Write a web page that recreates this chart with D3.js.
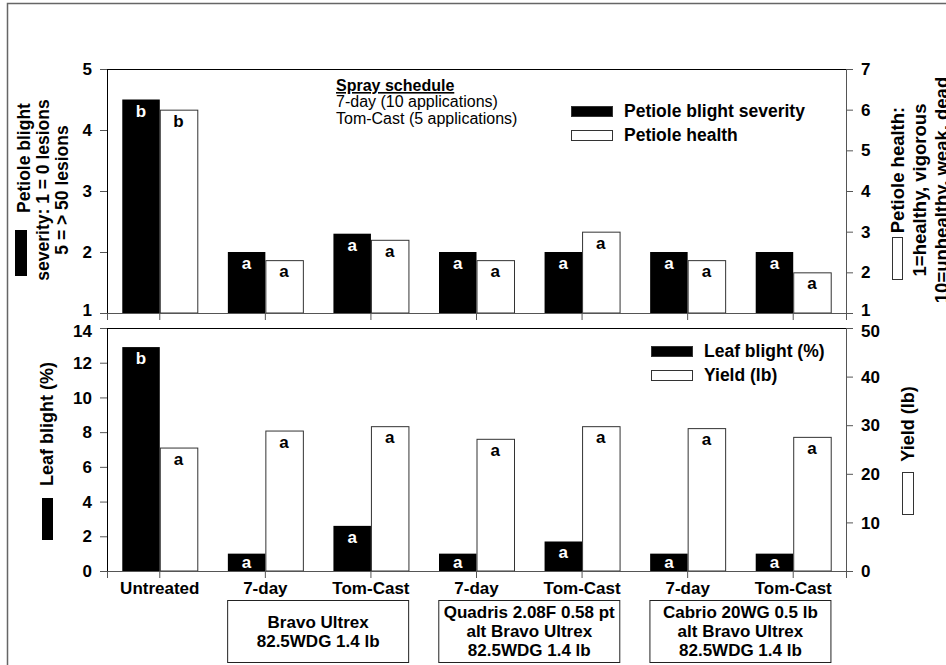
<!DOCTYPE html>
<html>
<head>
<meta charset="utf-8">
<script src="https://cdn.jsdelivr.net/npm/d3@7"></script>
<style>
  body { margin: 0; background: #fff; }
  svg { font-family: "Liberation Sans", Arial, sans-serif; }
  .tick text { font-weight: bold; font-size: 17px; fill: #000; }
</style>
</head>
<body>
<svg id="chart" width="946" height="665"></svg>
<script>
// treatments along x
const groups = ["Untreated", "7-day", "Tom-Cast", "7-day", "Tom-Cast", "7-day", "Tom-Cast"];

// top panel: petiole blight severity (left, 1-5) and petiole health (right, 1-7)
const severity = [4.5, 2.0, 2.3, 2.0, 2.0, 2.0, 2.0];
const severityLetters = ["b", "a", "a", "a", "a", "a", "a"];
const health = [6.0, 2.3, 2.8, 2.3, 3.0, 2.3, 2.0];
const healthLetters = ["b", "a", "a", "a", "a", "a", "a"];

// bottom panel: leaf blight % (left, 0-14) and yield lb (right, 0-50)
const leafBlight = [12.9, 1.0, 2.6, 1.0, 1.7, 1.0, 1.0];
const leafLetters = ["b", "a", "a", "a", "a", "a", "a"];
const yieldLb = [25.4, 28.9, 29.8, 27.2, 29.8, 29.4, 27.6];
const yieldLetters = ["a", "a", "a", "a", "a", "a", "a"];

const sevTicks = [1, 2, 3, 4, 5];
const healthTicks = [1, 2, 3, 4, 5, 6, 7];
const leafTicks = [0, 2, 4, 6, 8, 10, 12, 14];
const yieldTicks = [0, 10, 20, 30, 40, 50];

const products = [
  { lines: ["Bravo Ultrex", "82.5WDG 1.4 lb"], from: 1, to: 2 },
  { lines: ["Quadris 2.08F 0.58 pt", "alt Bravo Ultrex", "82.5WDG 1.4 lb"], from: 3, to: 4 },
  { lines: ["Cabrio 20WG 0.5 lb", "alt Bravo Ultrex", "82.5WDG 1.4 lb"], from: 5, to: 6 }
];

const svg = d3.select("#chart");
const left = 107, right = 846;
const axisColor = "#555";

// outer frame
svg.append("rect")
  .attr("x", 7.5).attr("y", 3.5).attr("width", 960).attr("height", 700)
  .attr("fill", "none").attr("stroke", "#666").attr("stroke-width", 1.5);

const x = d3.scaleBand().domain(d3.range(groups.length)).range([left, right]);
const barW = 37.5;
const cx = i => x(i) + x.bandwidth() / 2;

function panel(top, bottom, yL, yR, ticksL, ticksR, blackVals, blackLet, whiteVals, whiteLet) {
  const g = svg.append("g");

  // box top line
  g.append("line").attr("x1", left).attr("x2", right)
    .attr("y1", top + 0.5).attr("y2", top + 0.5).attr("stroke", "#000");

  g.selectAll(".bk").data(blackVals).join("rect")
    .attr("x", (d, i) => cx(i) - barW)
    .attr("y", d => yL(d))
    .attr("width", barW)
    .attr("height", d => bottom - yL(d))
    .attr("fill", "#000");

  g.selectAll(".wt").data(whiteVals).join("rect")
    .attr("x", (d, i) => cx(i) + 0.5)
    .attr("y", d => yR(d) + 0.5)
    .attr("width", barW)
    .attr("height", d => bottom - yR(d) - 0.5)
    .attr("fill", "#fff").attr("stroke", "#333").attr("stroke-width", 1);

  g.selectAll(".bl").data(blackVals).join("text")
    .attr("x", (d, i) => cx(i) - barW / 2)
    .attr("y", d => Math.min(yL(d) + 17, bottom - 3))
    .attr("text-anchor", "middle").attr("font-weight", "bold").attr("font-size", 17)
    .attr("fill", "#fff")
    .text((d, i) => blackLet[i]);

  g.selectAll(".wl").data(whiteVals).join("text")
    .attr("x", (d, i) => cx(i) + barW / 2)
    .attr("y", d => Math.min(yR(d) + 17, bottom - 3))
    .attr("text-anchor", "middle").attr("font-weight", "bold").attr("font-size", 17)
    .attr("fill", "#000")
    .text((d, i) => whiteLet[i]);

  const ax = g.append("g").attr("transform", `translate(${left},0)`)
    .call(d3.axisLeft(yL).tickValues(ticksL).tickSize(7).tickPadding(8).tickFormat(d3.format("d")));
  const ar = g.append("g").attr("transform", `translate(${right},0)`)
    .call(d3.axisRight(yR).tickValues(ticksR).tickSize(7).tickPadding(8).tickFormat(d3.format("d")));
  const xb = g.append("g").attr("transform", `translate(0,${bottom})`)
    .call(d3.axisBottom(x).tickSize(7).tickFormat(() => ""));
  [ax, ar, xb].forEach(a => {
    a.select(".domain").attr("stroke", axisColor);
    a.selectAll(".tick line").attr("stroke", axisColor);
  });
  ax.select(".domain").attr("stroke", "#000");
  ax.selectAll(".tick text").attr("dy", "0.33em");
  ar.selectAll(".tick text").attr("dy", "0.33em");
  return { ax, ar, xb };
}

// top panel
const yTop0 = 69, yTop1 = 313;
const ySev = d3.scaleLinear().domain([1, 5]).range([yTop1, yTop0]);
const yHealth = d3.scaleLinear().domain([1, 7]).range([yTop1, yTop0]);
const topAxes = panel(yTop0, yTop1, ySev, yHealth, sevTicks, healthTicks, severity, severityLetters, health, healthLetters);
// lift the bottom "1" labels a touch so they clear the lower panel's top labels
[topAxes.ax, topAxes.ar].forEach(a => a.selectAll(".tick text").filter(d => d === 1).attr("dy", "0.15em"));

// bottom panel
const yBot0 = 328, yBot1 = 571;
const yLeaf = d3.scaleLinear().domain([0, 14]).range([yBot1, yBot0]);
const yYield = d3.scaleLinear().domain([0, 50]).range([yBot1, yBot0]);
const botAxes = panel(yBot0, yBot1, yLeaf, yYield, leafTicks, yieldTicks, leafBlight, leafLetters, yieldLb, yieldLetters);
[botAxes.ax, botAxes.ar].forEach(a => a.selectAll(".tick text").filter(d => d === 14 || d === 50).attr("dy", "0.5em"));

// x labels
botAxes.xb.selectAll(".tick text")
  .text(i => groups[i])
  .attr("dy", "0").attr("y", 23);

// treatment boxes
products.forEach(p => {
  const mid = (cx(p.from) + cx(p.to)) / 2;
  const gb = svg.append("g");
  gb.append("rect").attr("x", mid - 90.5).attr("y", 600.5)
    .attr("width", 181).attr("height", 62)
    .attr("fill", "#fff").attr("stroke", "#222");
  const lh = 19;
  const first = p.lines.length === 2 ? 628 : 618;
  p.lines.forEach((t, k) => {
    gb.append("text").attr("x", mid).attr("y", first + k * lh)
      .attr("text-anchor", "middle").attr("font-weight", "bold").attr("font-size", 17)
      .text(t);
  });
});

// spray schedule note
const note = svg.append("g").attr("font-size", 16);
note.append("text").attr("x", 336).attr("y", 91).attr("font-weight", "bold")
  .attr("text-decoration", "underline").text("Spray schedule");
note.append("text").attr("x", 336).attr("y", 107).text("7-day (10 applications)");
note.append("text").attr("x", 336).attr("y", 124).text("Tom-Cast (5 applications)");

// legends
function legend(xs, ys, items) {
  const lg = svg.append("g");
  items.forEach((it, k) => {
    lg.append("rect").attr("x", xs + 0.5).attr("y", ys + k * 24 + 0.5)
      .attr("width", 41).attr("height", 10)
      .attr("fill", it.fill).attr("stroke", "#333");
    lg.append("text").attr("x", xs + 53).attr("y", ys + k * 24 + 11)
      .attr("font-size", 17.5).attr("font-weight", "bold").text(it.label);
  });
}
legend(571, 106, [{ fill: "#000", label: "Petiole blight severity" }, { fill: "#fff", label: "Petiole health" }]);
legend(651, 346, [{ fill: "#000", label: "Leaf blight (%)" }, { fill: "#fff", label: "Yield (lb)" }]);

// rotated axis titles: in the rotated frame u runs up the page, v runs rightwards
function rotTitle(px, py, lines, size, lineH, firstShift) {
  const g = svg.append("g").attr("transform", `translate(${px},${py}) rotate(-90)`);
  lines.forEach((t, k) => {
    g.append("text").attr("x", k === 0 ? firstShift : 0).attr("y", k * lineH)
      .attr("text-anchor", "middle").attr("font-size", size).attr("font-weight", "bold").text(t);
  });
  return g;
}

// left top: baselines at x = 30, 49, 68
const t1 = rotTitle(30, 190, ["Petiole blight", "severity: 1 = 0 lesions", "5 = > 50 lesions"], 17.5, 19, 32);
t1.append("rect").attr("x", -86).attr("y", -15).attr("width", 46).attr("height", 12).attr("fill", "#000");

// right top: baselines at x = 904, 926, 948
const t2 = rotTitle(904, 190, ["Petiole health:", "1=healthy, vigorous", "10=unhealthy, weak, dead"], 18.5, 22, 20);
t2.append("rect").attr("x", -89.5).attr("y", -11.5).attr("width", 42).attr("height", 10)
  .attr("fill", "#fff").attr("stroke", "#333");

// left bottom
const t3 = rotTitle(53, 451, ["Leaf blight (%)"], 18, 0, 27);
t3.append("rect").attr("x", -89).attr("y", -11).attr("width", 42).attr("height", 11).attr("fill", "#000");

// right bottom
const t4 = rotTitle(914, 451, ["Yield (lb)"], 18, 0, 27);
t4.append("rect").attr("x", -63.5).attr("y", -11.5).attr("width", 42).attr("height", 11)
  .attr("fill", "#fff").attr("stroke", "#333");
</script>
</body>
</html>
